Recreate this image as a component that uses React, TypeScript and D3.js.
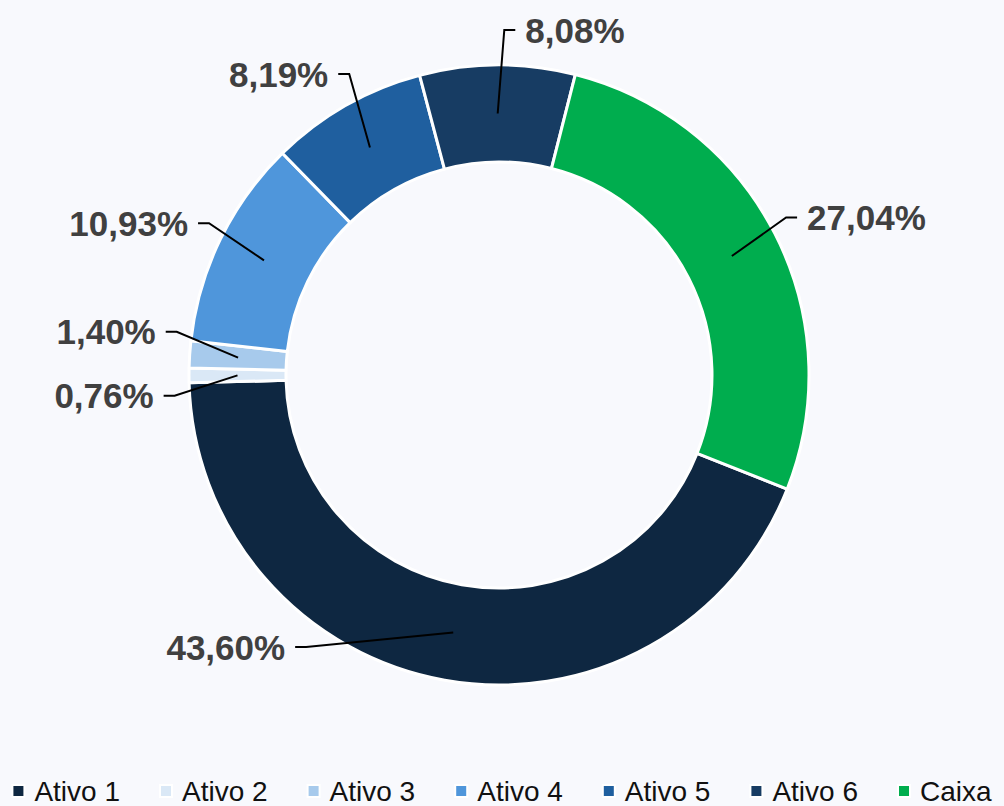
import React from "react";
import * as d3 from "d3";

const categories = ["Ativo 1", "Ativo 2", "Ativo 3", "Ativo 4", "Ativo 5", "Ativo 6", "Caixa"];
const values = [43.6, 0.76, 1.4, 10.93, 8.19, 8.08, 27.04];
const colors = ["#0e2741", "#dae8f6", "#a7caec", "#4f96db", "#1f5f9f", "#173c63", "#00ad4e"];

const W = 1004;
const H = 806;
const cx = 499;
const cy = 375;
const outerR = 310;
const innerR = 213;
const startDeg = 111.6;
const labelR = 346;
const labelGap = 64;
const labelTop = 30;
const labelBottom = 647;
const labelFont = "'Liberation Sans', Arial, sans-serif";

const fmt = (v: number) => d3.format(".2f")(v).replace(".", ",") + "%";

function measure(text: string, font: string): number {
  const c = document.createElement("canvas");
  const ctx = c.getContext("2d")!;
  ctx.font = font;
  return ctx.measureText(text).width;
}

type Lab = { i: number; y: number; target: number; side: number };

function spread(labs: Lab[]) {
  labs.sort((a, b) => a.target - b.target);
  let groups = labs.map((l) => ({ items: [l], center: l.target }));
  let changed = true;
  while (changed) {
    changed = false;
    for (let k = 0; k < groups.length - 1; k++) {
      const g1 = groups[k];
      const g2 = groups[k + 1];
      const end1 = g1.center + (g1.items.length * labelGap) / 2;
      const start2 = g2.center - (g2.items.length * labelGap) / 2;
      if (end1 > start2) {
        const items = g1.items.concat(g2.items);
        const center = d3.mean(items, (d) => d.target)!;
        groups.splice(k, 2, { items, center });
        changed = true;
        break;
      }
    }
  }
  groups.forEach((g) => {
    const n = g.items.length;
    g.items.forEach((it, j) => {
      it.y = g.center - ((n - 1) * labelGap) / 2 + j * labelGap;
    });
  });
  labs.forEach((l) => {
    l.y = Math.max(labelTop - cy, Math.min(labelBottom - cy, l.y));
  });
}

export default function App() {
  const pie = d3
    .pie<number>()
    .sort(null)
    .value((d) => d)
    .startAngle((startDeg * Math.PI) / 180)
    .endAngle((startDeg * Math.PI) / 180 + 2 * Math.PI);
  const arcs = pie(values);
  const arc = d3.arc<d3.PieArcDatum<number>>().innerRadius(innerR).outerRadius(outerR);

  const labs: Lab[] = arcs.map((a, i) => {
    const mid = (a.startAngle + a.endAngle) / 2;
    const side = Math.sin(mid) > -0.03 ? 1 : -1;
    const t = -labelR * Math.cos(mid);
    return { i, y: t, target: t, side };
  });
  spread(labs.filter((l) => l.side > 0));
  spread(labs.filter((l) => l.side < 0));

  const line = d3.line();

  const legendFont = `28px ${labelFont}`;
  const marker = 12;
  const markerGap = 10;
  const trail = 40;
  const widths = categories.map((c) => measure(c, legendFont));
  const itemW = widths.map((w) => marker + markerGap + w);
  const total = d3.sum(itemW) + trail * (categories.length - 1);
  let lx = W / 2 - total / 2;
  const legendY = 791;
  const legendItems = categories.map((c, i) => {
    const x = lx;
    lx += itemW[i] + trail;
    return { c, x, color: colors[i] };
  });

  return (
    <svg
      width={W}
      height={H}
      style={{ position: "absolute", left: 0, top: 0, background: "#f8f9fd" }}
    >
      <rect x={0} y={0} width={W} height={H} fill="#f8f9fd" />
      <g transform={`translate(${cx},${cy})`}>
        {arcs.map((a, i) => (
          <path key={i} d={arc(a) || ""} fill={colors[i]} stroke="#ffffff" strokeWidth={3} strokeLinejoin="round" />
        ))}
        {labs.map((l) => {
          const a = arcs[l.i];
          const [px, py] = arc.centroid(a);
          const dy = l.y;
          const dx = Math.max(Math.sqrt(Math.max(labelR * labelR - dy * dy, 0)), 26);
          const tx = l.side * dx;
          const pts: [number, number][] = [
            [px, py],
            [tx - l.side * 21, dy],
            [tx - l.side * 10, dy],
          ];
          return (
            <g key={l.i}>
              <path d={line(pts) || ""} fill="none" stroke="#000" strokeWidth={2} />
              <text
                x={tx}
                y={dy}
                dy="0.36em"
                textAnchor={l.side > 0 ? "start" : "end"}
                fontFamily={labelFont}
                fontWeight="bold"
                fontSize={35}
                fill="#404040"
              >
                {fmt(values[l.i])}
              </text>
            </g>
          );
        })}
      </g>
      <g>
        {legendItems.map((it, i) => (
          <g key={i}>
            <rect
              x={it.x}
              y={legendY - marker / 2}
              width={marker}
              height={marker}
              fill={it.color}
              stroke="#ffffff"
              strokeWidth={2}
            />
            <text
              x={it.x + marker + markerGap}
              y={legendY}
              dy="0.36em"
              fontFamily={labelFont}
              fontSize={28}
              fill="#111111"
            >
              {it.c}
            </text>
          </g>
        ))}
      </g>
    </svg>
  );
}
